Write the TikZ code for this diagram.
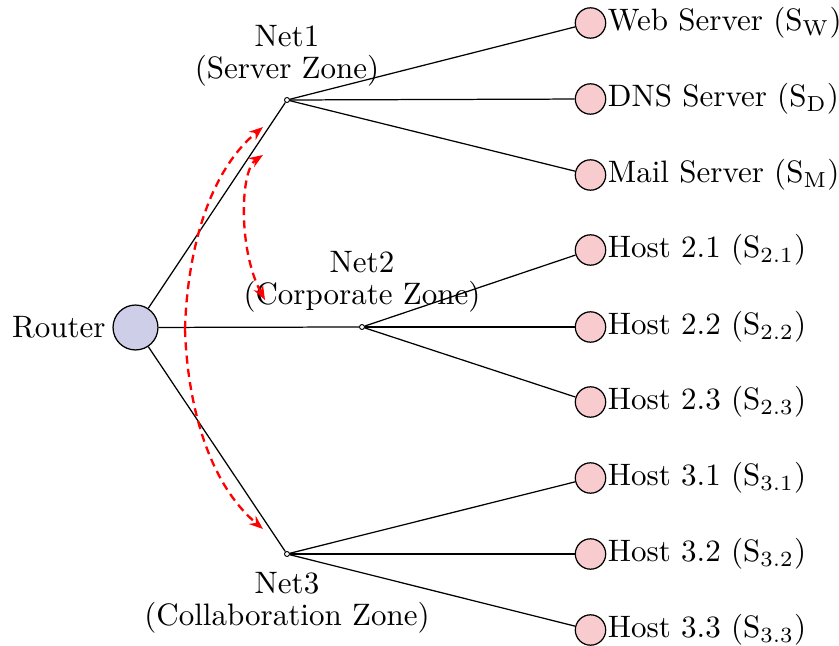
\documentclass[tikz,border=0pt]{standalone}
\usetikzlibrary{arrows.meta}
\definecolor{routerfill}{RGB}{206,206,232}
\definecolor{leaffill}{RGB}{248,204,206}
\begin{document}
\begin{tikzpicture}[x=0.3226pt,y=-0.3226pt,
  routernode/.style={circle,draw,fill=routerfill,minimum size=14.5pt,inner sep=0pt},
  leafnode/.style={circle,draw,fill=leaffill,minimum size=9.8pt,inner sep=0pt},
  netpt/.style={circle,draw,fill=white,minimum size=1.6pt,inner sep=0pt,line width=0.3pt},
  leaftext/.style={anchor=west,inner sep=0.3pt},
  netlab/.style={align=center,inner sep=0pt},
  link/.style={draw,line width=0.4pt},
  flow/.style={draw=red,line width=0.75pt,dash pattern=on 2.6pt off 1.7pt,
    -{Stealth[length=4.5pt,width=3.4pt]}},
  flowboth/.style={flow,{Stealth[length=4.5pt,width=3.4pt]}-{Stealth[length=4.5pt,width=3.4pt]}}]
\useasboundingbox (0,0) rectangle (839,646);

% router and the three network switches
\node[routernode] (router) at (135.5,327.5) {};
\node[anchor=east,inner sep=2pt] (routerlab) at (router.west) {Router};
\node[netpt] (n1) at (287,100) {};
\node[netpt] (n2) at (362,327) {};
\node[netpt] (n3) at (287,554) {};

\node[netlab] (n1lab) at (287,56) {Net1\\[-1.8pt](Server Zone)};
\node[netlab] (n2lab) at (362,282) {Net2\\[-1.8pt](Corporate Zone)};
\node[netlab] (n3lab) at (287,603) {Net3\\[-1.8pt](Collaboration Zone)};

% end systems
\foreach \name/\y/\txt in {
  w/23/{Web Server (S$_{\mathrm{W}}$)},
  d/99/{DNS Server (S$_{\mathrm{D}}$)},
  m/175/{Mail Server (S$_{\mathrm{M}}$)},
  h21/250/{Host 2.1 (S$_{2.1}$)},
  h22/327/{Host 2.2 (S$_{2.2}$)},
  h23/402/{Host 2.3 (S$_{2.3}$)},
  h31/478/{Host 3.1 (S$_{3.1}$)},
  h32/554/{Host 3.2 (S$_{3.2}$)},
  h33/630/{Host 3.3 (S$_{3.3}$)}} {
  \node[leafnode] (\name) at (590.5,\y) {};
  \node[leaftext] (\name lab) at (\name.east) {\txt};
}

% links
\draw[link] (router) -- (n1);
\draw[link] (router) -- (n2);
\draw[link] (router) -- (n3);
\coordinate (stub) at (218,327.5);
\draw[line width=0.5pt] (router) -- (stub);
\foreach \a/\b in {n1/w,n1/d,n1/m,n2/h21,n2/h22,n2/h23,n3/h31,n3/h32,n3/h33}
  \draw[link] (\a) -- (\b);

% attack / traffic paths
\coordinate (fork) at (185,329);
\coordinate (up) at (263,127);
\coordinate (down) at (263,529);
\coordinate (loopa) at (265,300);
\coordinate (loopb) at (263,155);
\draw[flow] (fork) .. controls (187,260) and (205,175) .. (up);
\draw[flow] (fork) .. controls (187,396) and (205,480) .. (down);
\draw[flowboth] (loopa) .. controls (238,250) and (240,170) .. (loopb);
\end{tikzpicture}
\end{document}
